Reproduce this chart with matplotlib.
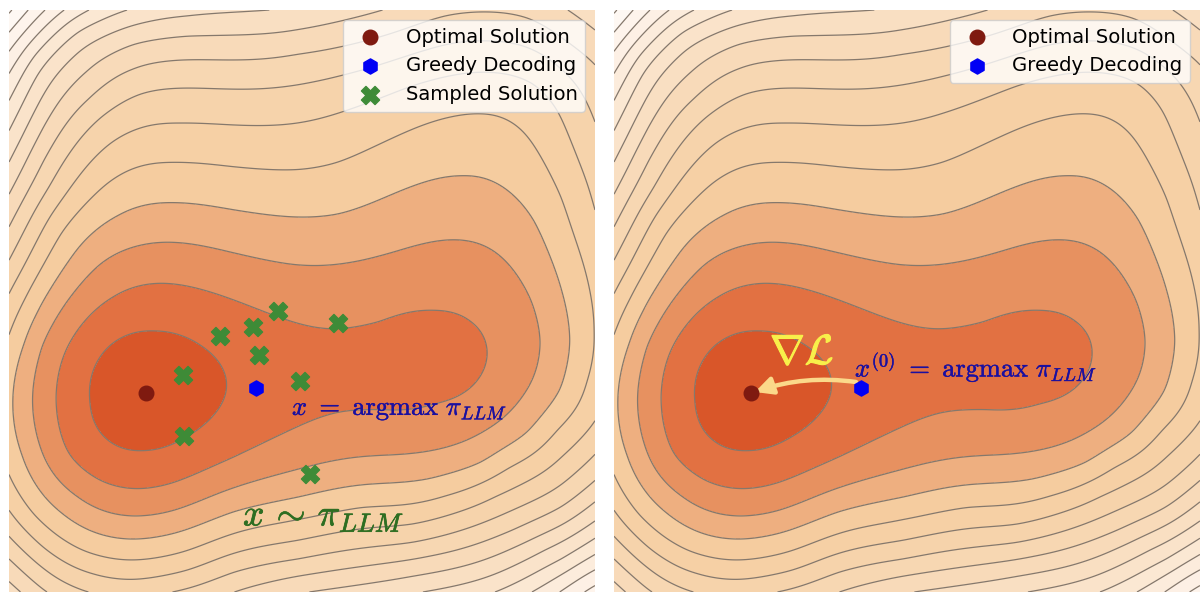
import numpy as np
import matplotlib
matplotlib.use('Agg')
from matplotlib import pyplot as plt
import matplotlib.patheffects as pe

plt.rcParams['mathtext.fontset'] = 'cm'

# contour lines, one list per level, (x, y) with y going down
contour_0 = [(146, 393)]
contour_1 = [(92, 401), (110, 345), (155, 333), (200, 346), (226, 386), (213, 415), (185, 436), (143, 449), (107, 438)]
contour_2 = [(56, 391), (77, 331), (113, 298), (157, 283), (203, 290), (247, 305), (287, 320), (330, 329), (380, 325),
             (433, 312), (470, 323), (487, 352), (468, 390), (433, 400), (380, 408), (337, 412), (295, 428), (233, 458),
             (173, 483), (137, 489), (100, 481), (67, 455)]
contour_3 = [(32, 398), (40, 345), (68, 300), (100, 263), (143, 245), (183, 243), (233, 253), (295, 265), (345, 263),
             (395, 252), (455, 240), (495, 252), (532, 300), (541, 341), (528, 388), (495, 425), (445, 448), (395, 455),
             (338, 460), (295, 470), (233, 488), (173, 511), (133, 516), (77, 495), (43, 455)]
contour_4 = [(13, 405), (25, 345), (43, 300), (70, 260), (117, 217), (173, 203), (233, 210), (295, 217), (338, 215),
             (395, 193), (462, 177), (495, 183), (535, 220), (562, 293), (571, 341), (562, 391), (528, 435), (482, 465),
             (428, 480), (355, 486), (298, 498), (233, 511), (160, 536), (117, 538), (60, 511), (23, 455)]
contour_5 = [(9, 336), (25, 300), (60, 233), (107, 183), (173, 163), (233, 167), (298, 170), (338, 163), (395, 137),
             (462, 115), (495, 115), (528, 137), (562, 197), (590, 293), (593, 331), (585, 381), (555, 428), (508, 465),
             (445, 495), (362, 506), (298, 519), (187, 551), (133, 560), (83, 551), (33, 515), (9, 475)]
contour_6 = [(9, 293), (50, 215), (110, 143), (180, 124), (233, 125), (298, 123), (338, 113), (412, 85), (480, 72),
             (535, 83), (558, 110), (578, 160), (595, 217), (595, 423), (562, 455), (495, 495), (412, 525), (298, 541),
             (187, 571), (133, 580), (93, 573), (43, 548), (9, 510)]
contour_7 = [(9, 262), (50, 187), (100, 117), (140, 93), (187, 88), (298, 85), (342, 75), (420, 52), (490, 42),
             (540, 52), (575, 83), (595, 127), (595, 455), (562, 485), (495, 518), (412, 543), (298, 560), (233, 571),
             (168, 592), (128, 598), (87, 592), (43, 568), (9, 536)]
contour_8 = [(9, 228), (43, 160), (90, 100), (133, 70), (187, 60), (298, 53), (445, 15), (485, 12), (528, 17), (562, 40),
             (595, 63), (595, 481), (562, 508), (512, 531), (428, 556), (298, 576), (235, 592), (140, 615), (45, 592), (9, 558)]
contour_9 = [(9, 195), (43, 127), (87, 73), (133, 43), (187, 35), (298, 29), (387, 10), (567, 10), (595, 32), (595, 501),
             (562, 525), (512, 548), (412, 576), (300, 592), (160, 632), (22, 592), (9, 580)]
contour_10 = [(9, 163), (40, 100), (80, 50), (133, 25), (187, 17), (289, 10), (595, 521), (545, 548), (478, 580), (420, 592)]
contour_11 = [(9, 132), (37, 73), (77, 30), (130, 10), (595, 538), (562, 561), (497, 592)]
contour_12 = [(9, 102), (33, 55), (91, 10), (595, 555), (533, 592)]
contour_13 = [(9, 75), (65, 10), (595, 570), (560, 592)]
contour_14 = [(9, 52), (45, 10), (595, 583), (582, 592)]
contour_15 = [(9, 33), (28, 10)]
contour_16 = [(9, 15), (13, 10)]
# neck and second basin, no line there but the value is between levels 1 and 2
basin_values = [(1.6, 290, 372), (1.4, 410, 360)]

contours = [contour_0, contour_1, contour_2, contour_3, contour_4, contour_5, contour_6, contour_7, contour_8,
            contour_9, contour_10, contour_11, contour_12, contour_13, contour_14, contour_15, contour_16]

band_colors = ['#D95629', '#E27142', '#E79160', '#EEAF80', '#F5CC9F', '#F6D0A5', '#F6D3AB', '#F7D7B2', '#F8DAB9',
               '#F9DFC2', '#FAE3CA', '#FBE8D3', '#FCECDC', '#FDF0E5', '#FEF4EC', '#FEF8F3', '#FFFBF8']

optimal = (146, 393)
greedy = (256, 388)
samples_x = [183, 184, 220, 253, 278, 338, 259, 300, 310]
samples_y = [375, 436, 336, 327, 311, 323, 355, 381, 474]

# smooth surface through the read points (thin plate spline)
px, py, pz = [], [], []
for level, pts in enumerate(contours):
    for x, y in pts:
        px.append(x)
        py.append(y)
        pz.append(level)
for z, x, y in basin_values:
    px.append(x)
    py.append(y)
    pz.append(z)
px = np.array(px) / 586.0
py = np.array(py) / 586.0
pz = np.array(pz, dtype=float)


def kernel(r2):
    return 0.5 * r2 * np.log(r2 + 1e-12)


n = len(px)
K = kernel((px[:, None] - px[None, :])**2 + (py[:, None] - py[None, :])**2) + 4e-3 * np.eye(n)
P = np.column_stack([np.ones(n), px, py])
A = np.block([[K, P], [P.T, np.zeros((3, 3))]])
sol = np.linalg.solve(A, np.concatenate([pz, np.zeros(3)]))

gx = np.linspace(9, 595, 294)
gy = np.linspace(10, 592, 292)
X, Y = np.meshgrid(gx, gy)
xn = X.ravel() / 586.0
yn = Y.ravel() / 586.0
Z = np.zeros(xn.shape)
for i in range(n):
    Z += sol[i] * kernel((xn - px[i])**2 + (yn - py[i])**2)
Z += sol[n] + sol[n + 1] * xn + sol[n + 2] * yn
Z = Z.reshape(X.shape)

fig = plt.figure(figsize=(12, 5.98), dpi=100)
ax1 = fig.add_axes([9 / 1200, 6 / 598, 586 / 1200, 582 / 598])
ax2 = fig.add_axes([614 / 1200, 6 / 598, 586 / 1200, 582 / 598])

levels = np.arange(1, 17)
for ax in [ax1, ax2]:
    ax.contourf(X, Y, Z, levels=np.concatenate([[-50], levels, [50]]), colors=band_colors)
    ax.contour(X, Y, Z, levels=levels, colors='#85786c', linewidths=0.9)
    ax.scatter(*optimal, marker='o', s=110, color='#7F1A10', zorder=5, label='Optimal Solution')
    ax.scatter(*greedy, marker='h', s=120, color='#0000F5', zorder=5, label='Greedy Decoding')
    ax.set_xlim(9, 595)
    ax.set_ylim(592, 10)
    ax.axis('off')

ax1.scatter(samples_x, samples_y, marker='X', s=170, color='#3E8B37', zorder=5, label='Sampled Solution')
ax1.legend(loc='upper right', fontsize=14.1)
ax2.legend(loc='upper right', fontsize=14.1)

thick = [pe.withStroke(linewidth=0.3, foreground='#1A0FA0')]
ax1.text(292, 409, r'$x\,\,=\,\,\mathrm{argmax}\,\,\pi_{LLM}$', fontsize=19, color='#1A0FA0', va='center', path_effects=thick)
ax1.text(243, 516, r'$x\,\sim\,\pi_{LLM}$', fontsize=27, color='#2E6E22', va='center',
         path_effects=[pe.withStroke(linewidth=0.5, foreground='#2E6E22')])
ax2.text(250, 367, r'$x^{(0)}\,\,=\,\,\mathrm{argmax}\,\,\pi_{LLM}$', fontsize=19, color='#1A0FA0', va='center', path_effects=thick)
ax2.text(165, 352, r'$\nabla\mathcal{L}$', fontsize=30, color='#F8F04A', va='center',
         path_effects=[pe.withStroke(linewidth=0.8, foreground='#F8F04A')])
ax2.annotate('', xy=(150, 392), xytext=(251, 382),
             arrowprops=dict(arrowstyle='-|>', mutation_scale=26, color='#FBD98A', lw=3.2,
                             connectionstyle='arc3,rad=0.12', shrinkA=0, shrinkB=0))

fig.savefig('out.png', dpi=100)
